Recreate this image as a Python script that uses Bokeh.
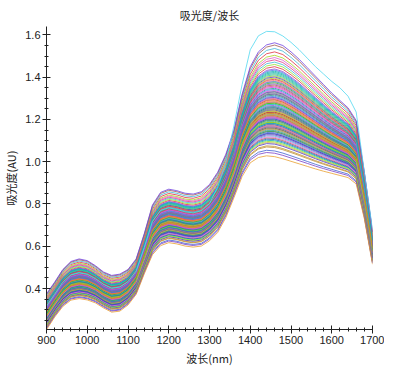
from bokeh.plotting import figure
from bokeh.models import ColumnDataSource, FixedTicker, Range1d, PrintfTickFormatter
from bokeh.embed import file_html
from bokeh.resources import INLINE

# ---- data -------------------------------------------------------------
wavelength = list(range(900, 1701, 20))

# lowest (orange) spectrum
low_spectrum = [0.205, 0.265, 0.315, 0.345, 0.352, 0.346, 0.332, 0.308, 0.288, 0.293,
                0.322, 0.372, 0.470, 0.560, 0.603, 0.617, 0.611, 0.601, 0.596, 0.601,
                0.626, 0.665, 0.735, 0.830, 0.930, 0.995, 1.020, 1.028, 1.024, 1.014,
                1.002, 0.990, 0.978, 0.966, 0.955, 0.945, 0.935, 0.925, 0.895, 0.730,
                0.515]

# upper edge of the dense bundle (purple)
high_spectrum = [0.375, 0.430, 0.490, 0.528, 0.540, 0.532, 0.508, 0.478, 0.462, 0.468,
                 0.490, 0.540, 0.660, 0.795, 0.855, 0.870, 0.863, 0.851, 0.847, 0.858,
                 0.892, 0.950, 1.035, 1.150, 1.320, 1.450, 1.520, 1.553, 1.563, 1.550,
                 1.520, 1.485, 1.445, 1.405, 1.365, 1.325, 1.290, 1.255, 1.195, 0.950,
                 0.670]

# isolated top (cyan) spectrum
top_spectrum = [0.316, 0.372, 0.429, 0.464, 0.474, 0.467, 0.446, 0.419, 0.401, 0.407,
                0.432, 0.482, 0.594, 0.718, 0.770, 0.782, 0.774, 0.763, 0.758, 0.768,
                0.802, 0.880, 0.995, 1.170, 1.365, 1.530, 1.596, 1.617, 1.615, 1.595,
                1.565, 1.530, 1.490, 1.450, 1.415, 1.380, 1.350, 1.310, 1.235, 0.950,
                0.680]

# position of each sample between the low and high spectra
sample_level = [0.05, 0.62, 0.31, 0.44, 0.12, 0.83, 0.27, 0.39, 0.55, 0.20,
                0.71, 0.35, 0.48, 0.16, 0.92, 0.29, 0.41, 0.58, 0.23, 0.67,
                0.33, 0.46, 0.09, 0.76, 0.37, 0.52, 0.25, 0.64, 0.43, 0.18,
                0.87, 0.30, 0.50, 0.14, 0.69, 0.38, 0.56, 0.22, 0.79, 0.34,
                0.47, 0.26, 0.60, 0.40, 0.11, 0.73, 0.32, 0.53, 0.21, 0.66,
                0.36, 0.45, 0.28, 0.95, 0.42, 0.57, 0.19, 0.74, 0.30, 0.49,
                0.24, 0.63, 0.39, 0.15, 0.81, 0.35, 0.54, 0.27, 0.70, 0.44,
                0.08, 0.59, 0.33, 0.51, 0.22, 0.77, 0.37, 0.46, 0.17, 0.65,
                0.41, 0.29, 0.89, 0.36, 0.55, 0.25, 0.68, 0.43, 0.13, 0.61,
                0.32, 0.48, 0.20, 0.72, 0.38, 0.52, 0.28, 0.85, 0.42, 0.57,
                0.24, 0.66, 0.34, 0.47, 0.03, 0.75, 0.40, 0.50, 0.26, 0.98]

palette = ["#3f5fd0", "#e03c8a", "#2fb06a", "#8a4fd8", "#c8b050", "#3fb8d8",
           "#e060d0", "#40b030", "#7a3fc8", "#10b0b0", "#a8d020", "#f08020",
           "#708090", "#a05a50", "#e03040", "#2060c0", "#90e030", "#d040e0",
           "#209888", "#f07878", "#5038c8", "#30c098", "#c09030", "#4878e8"]

low_color = "#e8a030"
high_color = "#7040e0"
top_color = "#50d8f0"

x_major = [900, 1000, 1100, 1200, 1300, 1400, 1500, 1600, 1700]
y_major = [0.4, 0.6, 0.8, 1.0, 1.2, 1.4, 1.6]

# ---- build lines ------------------------------------------------------
xs, ys, cols = [], [], []
for i, w in enumerate(sample_level):
    xs.append(wavelength)
    ys.append([lo + w * (hi - lo) for lo, hi in zip(low_spectrum, high_spectrum)])
    cols.append(palette[i % len(palette)])
for spec, c in ((low_spectrum, low_color), (high_spectrum, high_color), (top_spectrum, top_color)):
    xs.append(wavelength)
    ys.append(spec)
    cols.append(c)

src = ColumnDataSource(dict(xs=xs, ys=ys, color=cols))

p = figure(frame_width=326, frame_height=303,
           x_range=Range1d(900, 1700), y_range=Range1d(0.206, 1.64),
           output_backend="svg", toolbar_location=None, title="吸光度/波长")
p.multi_line(xs="xs", ys="ys", line_color="color", line_width=0.8, source=src)

p.title.align = "center"
p.title.text_font = "Noto Sans CJK SC"
p.title.text_font_size = "11px"
p.title.text_font_style = "normal"
p.title.text_color = "#222222"
p.title.standoff = 8

p.xgrid.visible = False
p.ygrid.visible = False
p.outline_line_color = None
p.background_fill_color = "white"
p.border_fill_color = "white"
p.min_border_left = 0
p.min_border_right = 12
p.min_border_top = 0
p.min_border_bottom = 0

x_minor = [v for v in range(900, 1701, 20)]
y_minor = [round(0.25 + 0.05 * k, 2) for k in range(28)]
p.xaxis.ticker = FixedTicker(ticks=x_major, minor_ticks=x_minor)
p.yaxis.ticker = FixedTicker(ticks=y_major, minor_ticks=y_minor)
p.yaxis.formatter = PrintfTickFormatter(format="%.1f")

for ax in (p.xaxis[0], p.yaxis[0]):
    ax.axis_line_color = "#222222"
    ax.major_tick_line_color = "#222222"
    ax.minor_tick_line_color = "#222222"
    ax.major_tick_in = 4
    ax.major_tick_out = 4
    ax.minor_tick_in = 2
    ax.minor_tick_out = 2
    ax.major_label_text_font = "Liberation Sans"
    ax.major_label_text_font_size = "11px"
    ax.major_label_text_color = "#222222"
    ax.axis_label_text_font = "Noto Sans CJK SC"
    ax.axis_label_text_font_size = "11px"
    ax.axis_label_text_font_style = "normal"
    ax.axis_label_text_color = "#222222"
    ax.major_label_standoff = 2
    ax.axis_label_standoff = 3

p.xaxis.axis_label = "波长(nm)"
p.yaxis.axis_label = "吸光度(AU)"

open("out.html", "w").write(file_html(p, INLINE))
